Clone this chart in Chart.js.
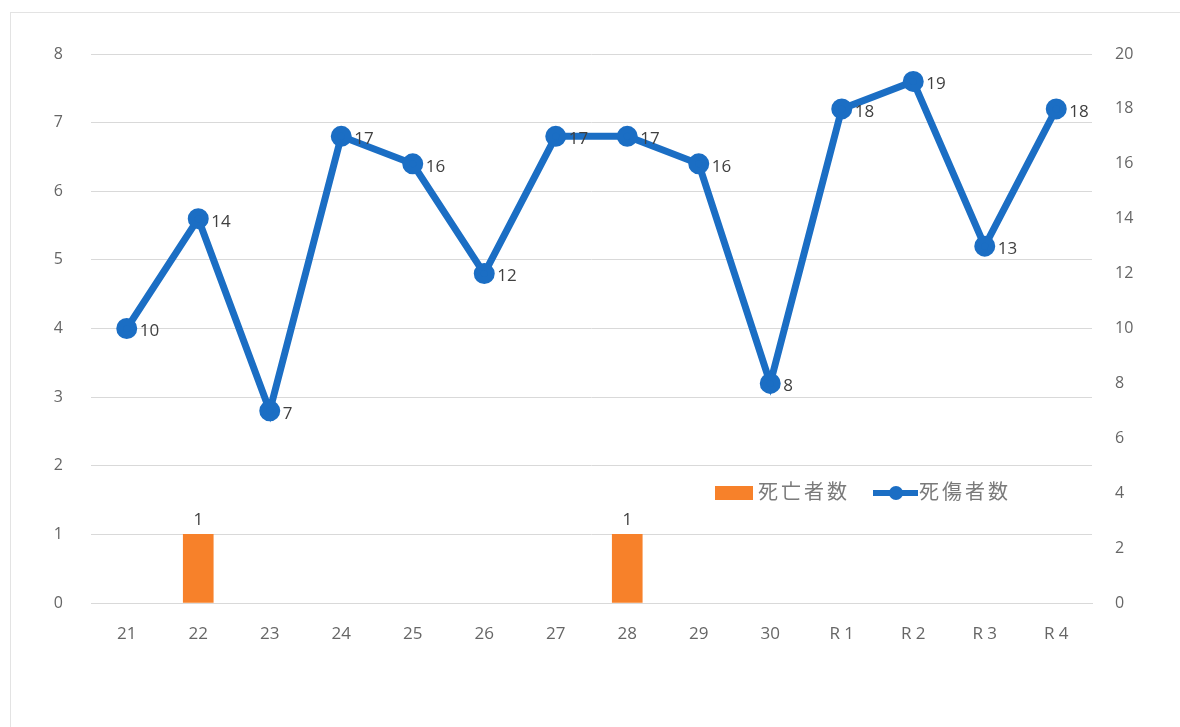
<!DOCTYPE html>
<html>
<head>
<meta charset="utf-8">
<script src="https://cdn.jsdelivr.net/npm/chart.js@4"></script>
<style>
  html, body { margin: 0; padding: 0; background: #fff; }
  #wrap { position: relative; width: 1180px; height: 727px; overflow: hidden; }
  #frame { position: absolute; left: 10px; top: 12px; width: 1180px; height: 740px; border: 1px solid #e3e3e3; box-sizing: border-box; }
  canvas { position: absolute; left: 0; top: 0; }
  .lg { position: absolute; top: 476px; font: 20px "Noto Sans CJK JP", sans-serif; letter-spacing: 3px; color: #7a7a7a; white-space: nowrap; }
</style>
</head>
<body>
<div id="wrap">
  <div id="frame"></div>
  <canvas id="myChart" width="1180" height="727"></canvas>
  <div class="lg" style="left:715px;"><span style="display:inline-block;width:38px;height:14px;background:#f7812a;vertical-align:-1px;margin-right:5px"></span>死亡者数</div>
  <div class="lg" style="left:873px;"><span style="display:inline-block;position:relative;width:45px;height:14px;vertical-align:-1px;margin-right:1px"><span style="position:absolute;left:0;top:4px;width:45px;height:6px;background:#1b6ec4"></span><span style="position:absolute;left:16px;top:0;width:14px;height:14px;border-radius:50%;background:#1b6ec4"></span></span>死傷者数</div>
</div>
<script>
// 年度
var labels = ['21', '22', '23', '24', '25', '26', '27', '28', '29', '30', 'R 1', 'R 2', 'R 3', 'R 4'];
// 死亡者数 (left axis)
var deaths = [0, 1, 0, 0, 0, 0, 0, 1, 0, 0, 0, 0, 0, 0];
// 死傷者数 (right axis)
var casualties = [10, 14, 7, 17, 16, 12, 17, 17, 16, 8, 18, 19, 13, 18];

var leftTicks = [0, 1, 2, 3, 4, 5, 6, 7, 8];
var rightTicks = [0, 2, 4, 6, 8, 10, 12, 14, 16, 18, 20];

var numFont = { family: '"Open Sans", "Noto Sans", sans-serif', size: 16 };

// value labels: right of line points, above non-zero bars
var valueLabels = {
    id: 'valueLabels',
    afterDatasetsDraw: function (chart) {
        var ctx = chart.ctx;
        ctx.save();
        ctx.font = '17px "Open Sans", "Noto Sans", sans-serif';
        ctx.fillStyle = '#404040';
        chart.data.datasets.forEach(function (ds, i) {
            var meta = chart.getDatasetMeta(i);
            meta.data.forEach(function (el, j) {
                var v = ds.data[j];
                if (ds.type === 'bar') {
                    if (!v) return;
                    ctx.textAlign = 'center';
                    ctx.textBaseline = 'bottom';
                    ctx.fillText(v, el.x, el.y - 6);
                } else {
                    ctx.textAlign = 'left';
                    ctx.textBaseline = 'middle';
                    ctx.fillText(v, el.x + 13, el.y + 3);
                }
            });
        });
        ctx.restore();
    }
};

var config = {
    data: {
        labels: labels,
        datasets: [
            {
                type: 'line',
                label: '死傷者数',
                data: casualties,
                yAxisID: 'y1',
                borderColor: '#1b6ec4',
                backgroundColor: '#1b6ec4',
                borderWidth: 7,
                pointRadius: 7,
                pointHoverRadius: 7,
                tension: 0,
                order: 0
            },
            {
                type: 'bar',
                label: '死亡者数',
                data: deaths,
                yAxisID: 'y',
                backgroundColor: function (c) { return c.raw ? '#f7812a' : 'rgba(0,0,0,0)'; },
                barThickness: 30,
                order: 1
            }
        ]
    },
    options: {
        responsive: false,
        animation: false,
        layout: { padding: { top: 54, left: 0, right: 0, bottom: 0 } },
        plugins: {
            legend: { display: false },
            tooltip: { enabled: false }
        },
        scales: {
            x: {
                grid: { display: false, drawTicks: false },
                border: { color: '#d9d9d9', width: 1 },
                ticks: { color: '#666666', font: { family: numFont.family, size: 17 }, padding: 21 },
                afterFit: function (s) { s.height = 124; }
            },
            y: {
                position: 'left',
                min: 0, max: 8,
                afterBuildTicks: function (s) { s.ticks = leftTicks.map(function (v) { return { value: v }; }); },
                grid: { color: '#d9d9d9', drawTicks: false },
                border: { display: false },
                ticks: { color: '#666666', font: numFont, padding: 28 },
                afterFit: function (s) { s.width = 91; }
            },
            y1: {
                position: 'right',
                min: 0, max: 20,
                afterBuildTicks: function (s) { s.ticks = rightTicks.map(function (v) { return { value: v }; }); },
                grid: { display: false, drawTicks: false },
                border: { display: false },
                ticks: { color: '#666666', font: numFont, padding: 23 },
                afterFit: function (s) { s.width = 88; }
            }
        }
    },
    plugins: [valueLabels]
};

var chart = new Chart(document.getElementById('myChart'), config);
</script>
</body>
</html>
